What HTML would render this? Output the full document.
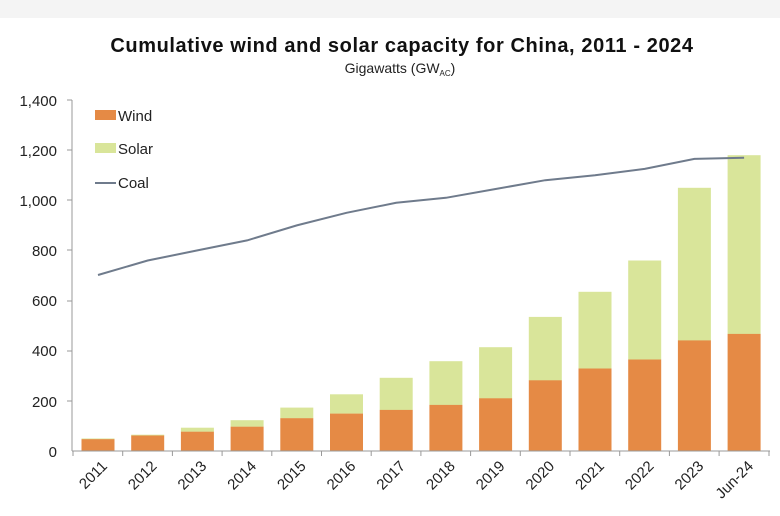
<!DOCTYPE html>
<html><head><meta charset="utf-8"><style>
body{margin:0;background:#fff;}
svg{display:block;font-family:"Liberation Sans",sans-serif;}
</style></head><body>
<svg width="780" height="516" viewBox="0 0 780 516">
<rect width="780" height="516" fill="#fff"/>
<rect width="780" height="18" fill="#f4f4f4"/>
<text x="402" y="52" text-anchor="middle" font-size="20" font-weight="bold" letter-spacing="0.6" fill="#111">Cumulative wind and solar capacity for China, 2011 - 2024</text>
<text x="400" y="73" text-anchor="middle" font-size="14" fill="#222">Gigawatts (GW<tspan font-size="8" dy="3">AC</tspan><tspan dy="-3">)</tspan></text>
<g font-size="15" fill="#222" text-anchor="end">
<text x="57" y="106">1,400</text><text x="57" y="156">1,200</text><text x="57" y="206">1,000</text>
<text x="57" y="256">800</text><text x="57" y="306">600</text><text x="57" y="356">400</text>
<text x="57" y="407">200</text><text x="57" y="457">0</text>
</g>
<g fill="#d9e59a">
<rect x="81.5" y="438.5" width="33" height="1"/>
<rect x="131.2" y="434.7" width="33" height="1"/>
<rect x="180.9" y="427.7" width="33" height="4.2"/>
<rect x="230.6" y="420.2" width="33" height="6.7"/>
<rect x="280.3" y="407.6" width="33" height="10.8"/>
<rect x="330" y="394.3" width="33" height="19.5"/>
<rect x="379.7" y="377.8" width="33" height="32.3"/>
<rect x="429.4" y="361.2" width="33" height="43.9"/>
<rect x="479.1" y="347.2" width="33" height="51.3"/>
<rect x="528.8" y="316.9" width="33" height="63.6"/>
<rect x="578.5" y="291.8" width="33" height="76.9"/>
<rect x="628.2" y="260.5" width="33" height="99.2"/>
<rect x="677.9" y="187.8" width="33" height="152.8"/>
<rect x="727.6" y="155.2" width="33" height="178.9"/>
</g>
<g fill="#e58a45">
<rect x="81.5" y="439.2" width="33" height="11.8"/>
<rect x="131.2" y="435.5" width="33" height="15.5"/>
<rect x="180.9" y="431.7" width="33" height="19.3"/>
<rect x="230.6" y="426.7" width="33" height="24.3"/>
<rect x="280.3" y="418.2" width="33" height="32.8"/>
<rect x="330" y="413.6" width="33" height="37.4"/>
<rect x="379.7" y="409.9" width="33" height="41.1"/>
<rect x="429.4" y="404.9" width="33" height="46.1"/>
<rect x="479.1" y="398.3" width="33" height="52.7"/>
<rect x="528.8" y="380.3" width="33" height="70.7"/>
<rect x="578.5" y="368.5" width="33" height="82.5"/>
<rect x="628.2" y="359.5" width="33" height="91.5"/>
<rect x="677.9" y="340.4" width="33" height="110.6"/>
<rect x="727.6" y="333.9" width="33" height="117.1"/>
</g>
<g stroke="#999" stroke-width="1">
<line x1="72" y1="100" x2="72" y2="451"/>
<line x1="67" y1="100" x2="72" y2="100"/><line x1="67" y1="150" x2="72" y2="150"/>
<line x1="67" y1="200" x2="72" y2="200"/><line x1="67" y1="250" x2="72" y2="250"/>
<line x1="67" y1="301" x2="72" y2="301"/><line x1="67" y1="351" x2="72" y2="351"/>
<line x1="67" y1="401" x2="72" y2="401"/>
<line x1="72" y1="451" x2="770" y2="451"/>
<line x1="73" y1="451" x2="73" y2="456"/><line x1="122.7" y1="451" x2="122.7" y2="456"/>
<line x1="172.4" y1="451" x2="172.4" y2="456"/><line x1="222.1" y1="451" x2="222.1" y2="456"/>
<line x1="271.8" y1="451" x2="271.8" y2="456"/><line x1="321.5" y1="451" x2="321.5" y2="456"/>
<line x1="371.2" y1="451" x2="371.2" y2="456"/><line x1="420.9" y1="451" x2="420.9" y2="456"/>
<line x1="470.6" y1="451" x2="470.6" y2="456"/><line x1="520.3" y1="451" x2="520.3" y2="456"/>
<line x1="570" y1="451" x2="570" y2="456"/><line x1="619.7" y1="451" x2="619.7" y2="456"/>
<line x1="669.4" y1="451" x2="669.4" y2="456"/><line x1="719.1" y1="451" x2="719.1" y2="456"/>
<line x1="769" y1="451" x2="769" y2="456"/>
</g>
<g font-size="15" fill="#222" text-anchor="end">
<text transform="translate(108,467) rotate(-45)">2011</text>
<text transform="translate(157.7,467) rotate(-45)">2012</text>
<text transform="translate(207.4,467) rotate(-45)">2013</text>
<text transform="translate(257.1,467) rotate(-45)">2014</text>
<text transform="translate(306.8,467) rotate(-45)">2015</text>
<text transform="translate(356.5,467) rotate(-45)">2016</text>
<text transform="translate(406.2,467) rotate(-45)">2017</text>
<text transform="translate(455.9,467) rotate(-45)">2018</text>
<text transform="translate(505.6,467) rotate(-45)">2019</text>
<text transform="translate(555.3,467) rotate(-45)">2020</text>
<text transform="translate(605,467) rotate(-45)">2021</text>
<text transform="translate(654.7,467) rotate(-45)">2022</text>
<text transform="translate(704.4,467) rotate(-45)">2023</text>
<text transform="translate(754.1,467) rotate(-45)">Jun-24</text>
</g>
<polyline fill="none" stroke="#6f7b8c" stroke-width="2" points="98,275 147.7,260.5 197.4,250.4 247.1,240.4 296.8,225.4 346.5,212.8 396.2,202.8 445.9,197.8 495.6,189 545.3,180.2 595,175.2 644.7,168.9 694.4,158.9 744.1,157.7"/>
<rect x="95" y="110" width="21" height="10" fill="#e58a45"/>
<text x="118" y="121" font-size="15" fill="#222">Wind</text>
<rect x="95" y="143" width="21" height="10" fill="#d9e59a"/>
<text x="118" y="154" font-size="15" fill="#222">Solar</text>
<line x1="95" y1="183" x2="116" y2="183" stroke="#6f7b8c" stroke-width="2"/>
<text x="118" y="188" font-size="15" fill="#222">Coal</text>
</svg>
</body></html>
